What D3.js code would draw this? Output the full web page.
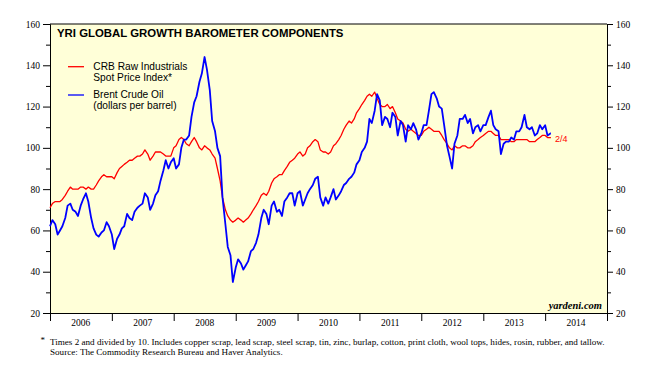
<!DOCTYPE html>
<html>
<head>
<meta charset="utf-8">
<script src="https://cdn.jsdelivr.net/npm/d3@7"></script>
<style>
  body { margin: 0; background: #fff; }
</style>
</head>
<body>
<svg id="chart" width="654" height="372"></svg>
<script>
// data, semi-monthly (1st and 15th), last point 2/4/2014
const yearLabels = ["2006", "2007", "2008", "2009", "2010", "2011", "2012", "2013", "2014"];
const yTicks = [20, 40, 60, 80, 100, 120, 140, 160];
const yMinorTicks = [30, 50, 70, 90, 110, 130, 150];
const lastLabel = "2/4";

// CRB raw industrials spot index, times 2 divided by 10
const crb = [
  71, 73, 74, 74, 74, 75, 77, 79, 81, 80, 80, 80, 81, 81, 80, 81, 80, 80, 82, 84, 86, 87, 86, 86,
  86, 85, 88, 90, 91, 92, 93, 94, 94, 95, 96, 96, 97, 99, 97, 94, 96, 98, 98, 98, 97, 96, 96, 96,
  100, 101, 104, 105, 104, 102, 101, 103, 105, 103, 100, 99, 101, 100, 99, 97, 95, 90, 84, 76, 70, 67, 65, 64,
  65, 66, 65, 64, 65, 66, 68, 70, 72, 74, 77, 78, 77, 79, 83, 85, 86, 87, 87, 89, 91, 93, 94, 95,
  97, 98, 96, 97, 100, 101, 103, 104, 103, 99, 98, 98, 97, 98, 101, 102, 104, 106, 109, 111, 113, 112, 114, 117,
  119, 121, 123, 125, 126, 125, 127, 124, 121, 120, 120, 121, 119, 120, 117, 114, 113, 112, 109, 108, 109, 108, 107, 106,
  106, 108, 109, 110, 109, 108, 108, 108, 106, 104, 102, 100, 99, 101, 100, 100, 101, 101, 100, 100, 101, 103, 104, 105,
  106, 107, 108, 108, 107, 106, 106, 104, 104, 104, 104, 103, 103, 104, 104, 104, 104, 104, 103, 103, 103, 104, 105, 106,
  106, 105, 105, 105
];

// Brent crude oil, dollars per barrel
const brent = [
  62, 65, 63, 58, 60, 62, 66, 72, 73, 70, 69, 67, 72, 75, 78, 74, 66, 61, 58, 57, 59, 60, 64, 62,
  58, 51, 56, 58, 61, 62, 68, 66, 65, 69, 71, 72, 73, 78, 76, 70, 73, 77, 79, 84, 89, 94, 90, 93,
  95, 90, 92, 100, 104, 104, 106, 115, 122, 125, 132, 136, 144, 138, 128, 113, 108, 100, 96, 76, 63, 52, 48, 35,
  42, 46, 44, 41, 43, 45, 50, 51, 54, 58, 66, 70, 68, 63, 72, 74, 69, 70, 67, 74, 76, 78, 78, 72,
  78, 79, 72, 75, 78, 80, 82, 85, 86, 76, 72, 76, 73, 76, 80, 75, 77, 79, 82, 83, 85, 86, 88, 92,
  94, 98, 100, 103, 114, 112, 118, 126, 123, 111, 115, 114, 110, 117, 115, 106, 113, 111, 103, 111, 109, 112, 109, 104,
  107, 111, 111, 118, 126, 127, 124, 120, 119, 111, 101, 96, 90, 102, 106, 114, 114, 116, 112, 114, 107, 110, 111, 108,
  111, 111, 115, 118, 111, 109, 108, 97, 102, 103, 103, 105, 104, 108, 108, 110, 116, 110, 109, 110, 106, 107, 111, 109,
  111, 106, 107, 107
];

const dates = [];
d3.utcMonth.range(new Date(Date.UTC(2006, 0, 1)), new Date(Date.UTC(2014, 1, 1))).forEach((m) => {
  dates.push(m, d3.utcDay.offset(m, 14));
});
dates.push(new Date(Date.UTC(2014, 1, 1)), new Date(Date.UTC(2014, 1, 4)));

const svg = d3.select("#chart");
const margin = { top: 24, right: 47, bottom: 59, left: 50 };
const width = 654, height = 372;
const serif = "'Liberation Serif', 'Times New Roman', serif";
const sans = "'Liberation Sans', Arial, sans-serif";

const x = d3
  .scaleUtc()
  .domain([new Date(Date.UTC(2006, 0, 1)), new Date(Date.UTC(2015, 0, 1))])
  .range([margin.left, width - margin.right]);

const y = d3
  .scaleLinear()
  .domain([20, 160])
  .range([height - margin.bottom, margin.top]);

// plot background
svg
  .append("rect")
  .attr("x", x.range()[0])
  .attr("y", y(160))
  .attr("width", x.range()[1] - x.range()[0])
  .attr("height", y(20) - y(160))
  .attr("fill", "#ffffd8");

// left axis
svg
  .append("g")
  .attr("transform", `translate(${margin.left},0)`)
  .call(d3.axisLeft(y).tickValues(yTicks).tickSize(7).tickPadding(3).tickSizeOuter(0));
svg
  .append("g")
  .attr("transform", `translate(${margin.left},0)`)
  .call(d3.axisLeft(y).tickValues(yMinorTicks).tickSize(4).tickFormat("").tickSizeOuter(0));

// right axis
svg
  .append("g")
  .attr("transform", `translate(${width - margin.right},0)`)
  .call(d3.axisRight(y).tickValues(yTicks).tickSize(6).tickPadding(3).tickSizeOuter(0));
svg
  .append("g")
  .attr("transform", `translate(${width - margin.right},0)`)
  .call(d3.axisRight(y).tickValues(yMinorTicks).tickSize(4).tickFormat("").tickSizeOuter(0));

// bottom axis: ticks on year boundaries, labels mid-year
const yearStarts = d3.utcYear.range(new Date(Date.UTC(2006, 0, 1)), new Date(Date.UTC(2015, 0, 2)));
svg
  .append("g")
  .attr("transform", `translate(0,${height - margin.bottom})`)
  .call(d3.axisBottom(x).tickValues(yearStarts).tickSize(8).tickFormat("").tickSizeOuter(0));

svg
  .append("g")
  .selectAll("text")
  .data(yearLabels)
  .enter()
  .append("text")
  .attr("x", (d) => x(new Date(Date.UTC(+d, 6, 2))))
  .attr("y", 326)
  .attr("text-anchor", "middle")
  .attr("font-family", serif)
  .attr("font-size", "9.5px")
  .attr("fill", "#000")
  .text((d) => d);

svg.selectAll(".tick text").attr("font-family", serif).attr("font-size", "9.5px").attr("fill", "#000");
svg.selectAll(".domain").attr("stroke", "#000");
svg.selectAll(".tick line").attr("stroke", "#000");

// top frame
svg
  .append("line")
  .attr("x1", x.range()[0])
  .attr("x2", x.range()[1])
  .attr("y1", y(160))
  .attr("y2", y(160))
  .attr("stroke", "#000");

// series
const line = (vals) =>
  d3
    .line()
    .x((d, i) => x(dates[i]))
    .y((d) => y(d))(vals);

svg
  .append("path")
  .attr("d", line(crb))
  .attr("fill", "none")
  .attr("stroke", "#ff0000")
  .attr("stroke-width", 1.3)
  .attr("stroke-linejoin", "round");

svg
  .append("path")
  .attr("d", line(brent))
  .attr("fill", "none")
  .attr("stroke", "#0000ff")
  .attr("stroke-width", 1.8)
  .attr("stroke-linejoin", "round");

svg
  .append("text")
  .attr("x", x(dates[dates.length - 1]) + 4)
  .attr("y", y(crb[crb.length - 1]) + 4)
  .attr("font-family", sans)
  .attr("font-size", "9px")
  .attr("fill", "#ff0000")
  .text(lastLabel);

// title
svg
  .append("text")
  .attr("x", 57)
  .attr("y", 36.5)
  .attr("font-family", sans)
  .attr("font-weight", "bold")
  .attr("font-size", "11.4px")
  .attr("fill", "#000")
  .text("YRI GLOBAL GROWTH BAROMETER COMPONENTS");

// legend
const legend = [
  { color: "#ff0000", y: 66.7, lines: ["CRB Raw Industrials", "Spot Price Index*"] },
  { color: "#0000ff", y: 95, lines: ["Brent Crude Oil", "(dollars per barrel)"] },
];
legend.forEach((l) => {
  svg
    .append("line")
    .attr("x1", 68)
    .attr("x2", 84)
    .attr("y1", l.y)
    .attr("y2", l.y)
    .attr("stroke", l.color)
    .attr("stroke-width", 1.3);
  l.lines.forEach((t, i) => {
    svg
      .append("text")
      .attr("x", 93.3)
      .attr("y", l.y + 3 + i * 10.8)
      .attr("font-family", sans)
      .attr("font-size", "10.2px")
      .attr("fill", "#000")
      .text(t);
  });
});

// credit
svg
  .append("text")
  .attr("x", 602)
  .attr("y", 309)
  .attr("text-anchor", "end")
  .attr("font-family", serif)
  .attr("font-style", "italic")
  .attr("font-weight", "bold")
  .attr("font-size", "10.5px")
  .attr("fill", "#000")
  .text("yardeni.com");

// footnote
svg
  .append("text")
  .attr("x", 40.5)
  .attr("y", 343)
  .attr("font-family", serif)
  .attr("font-size", "9px")
  .attr("fill", "#000")
  .text("*");
svg
  .append("text")
  .attr("x", 50)
  .attr("y", 345)
  .attr("font-family", serif)
  .attr("font-size", "9.1px")
  .attr("fill", "#000")
  .text("Times 2 and divided by 10. Includes copper scrap, lead scrap, steel scrap, tin, zinc, burlap, cotton, print cloth, wool tops, hides, rosin, rubber, and tallow.");
svg
  .append("text")
  .attr("x", 50)
  .attr("y", 354.5)
  .attr("font-family", serif)
  .attr("font-size", "9.1px")
  .attr("fill", "#000")
  .text("Source: The Commodity Research Bureau and Haver Analytics.");
</script>
</body>
</html>
